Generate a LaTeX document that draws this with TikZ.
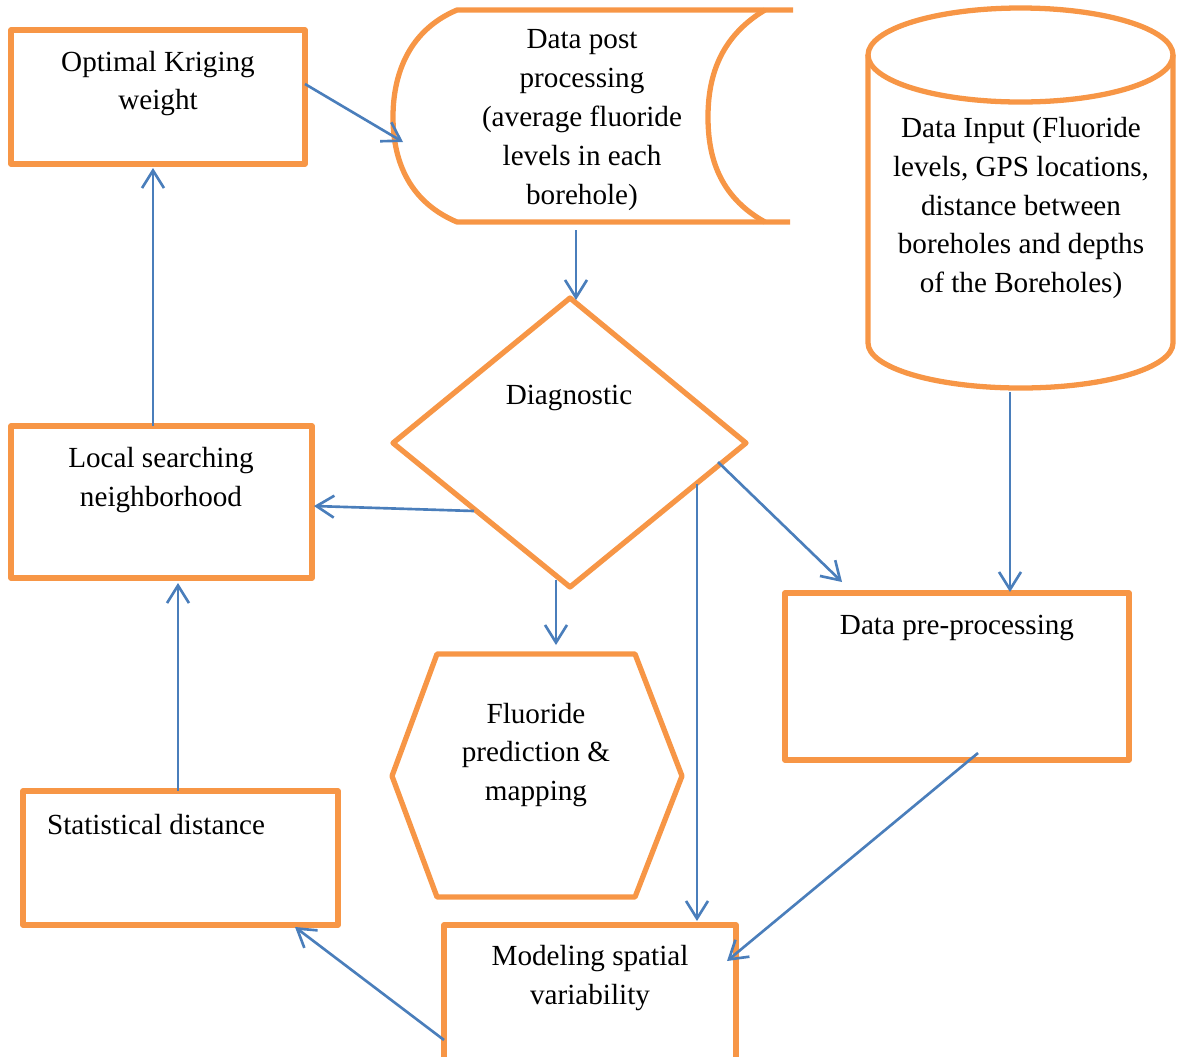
\documentclass[tikz,border=0pt]{standalone}
\usepackage{fontspec}
\setmainfont{Liberation Serif}
\usetikzlibrary{arrows.meta,fit}
\definecolor{boxorange}{HTML}{F79646}
\definecolor{flowblue}{HTML}{4A7EBB}
\begin{document}
\begin{tikzpicture}[x=0.02cm,y=-0.02cm,
  orangeline/.style={draw=boxorange, line width=3pt, line join=round},
  panel/.style={orangeline, inner sep=0pt},
  txt/.style={font=\fontsize{16.6}{22.1}\selectfont, align=center, inner sep=0pt},
  flow/.style={draw=flowblue, line width=1.5pt, -{Straight Barb[length=10pt,width=12.5pt]}}]
\useasboundingbox (0,0) rectangle (1180,1056);

% ---------- rectangular process boxes ----------
\node[panel, fit={(11,30) (305,164)}] (krig) {};
\node[panel, fit={(11,426) (312,578)}] (local) {};
\node[panel, fit={(23,791) (338,925)}] (stat) {};
\node[panel, fit={(785,593) (1129,760)}] (pre) {};
\node[panel, fit={(444,925) (736,1090)}] (model) {};

% ---------- stored-data shape ----------
\draw[orangeline] (793,10) -- (457,10)
  .. controls (405,32) and (393,80) .. (393,117)
  .. controls (393,155) and (405,200) .. (457,222) -- (790,222);
\draw[orangeline] (765,10) .. controls (718,38) and (708,80) .. (708,117)
  .. controls (708,155) and (718,196) .. (765,222);
\coordinate (postL) at (403,142);
\coordinate (postB) at (576,230);

% ---------- database cylinder ----------
\draw[orangeline] (1020.5,55) ellipse [x radius=152.5, y radius=47];
\draw[orangeline] (868,55) -- (868,343)
  .. controls (868,367.9) and (936.3,388) .. (1020.5,388)
  .. controls (1104.7,388) and (1173,367.9) .. (1173,343) -- (1173,55);
\coordinate (inB) at (1010,392);

% ---------- decision diamond ----------
\draw[orangeline] (570,298) -- (746,443) -- (570,587) -- (393,443) -- cycle;
\coordinate (diaT) at (576,300);
\coordinate (diaL) at (474,511);
\coordinate (diaB) at (556,580);
\coordinate (diaV) at (697,484);
\coordinate (diaR) at (718,462);

% ---------- output hexagon ----------
\draw[orangeline] (437,654) -- (635,654) -- (682,776) -- (635,897)
  -- (437,897) -- (392,776) -- cycle;
\coordinate (hexT) at (556,645);

% ---------- texts ----------
\node[txt] at (158,83.5) {Optimal Kriging\\weight};
\node[txt] at (582,120) {Data post\\processing\\(average fluoride\\levels in each\\borehole)};
\node[txt] at (1021,208) {Data Input (Fluoride\\levels, GPS locations,\\distance between\\boreholes and depths\\of the Boreholes)};
\node[txt] at (569,398) {Diagnostic};
\node[txt] at (161,480) {Local searching\\neighborhood};
\node[txt] at (156,825) {Statistical distance};
\node[txt] at (536,755) {Fluoride\\prediction \&\\mapping};
\node[txt] at (957,628) {Data pre-processing};
\node[txt] at (590,978) {Modeling spatial\\variability};

% ---------- connector end points ----------
\coordinate (krigE) at (305,84);
\coordinate (krigB) at (153,168);
\coordinate (localT) at (153,426);
\coordinate (localE) at (314,506);
\coordinate (localB) at (178,583);
\coordinate (statT) at (178,791);
\coordinate (statB) at (295,927);
\coordinate (preT) at (1010,592);
\coordinate (preC) at (842,582);
\coordinate (preS) at (978,753);
\coordinate (modT) at (697,921);
\coordinate (modE) at (727,961);
\coordinate (modW) at (444,1040);

% ---------- connectors ----------
\draw[flow] (krigE) -- (postL);
\draw[flow] (postB) -- (diaT);
\draw[flow] (diaL) -- (localE);
\draw[flow] (localT) -- (krigB);
\draw[flow] (diaB) -- (hexT);
\draw[flow] (diaV) -- (modT);
\draw[flow] (diaR) -- (preC);
\draw[flow] (inB) -- (preT);
\draw[flow] (preS) -- (modE);
\draw[flow] (modW) -- (statB);
\draw[flow] (statT) -- (localB);
\end{tikzpicture}
\end{document}
